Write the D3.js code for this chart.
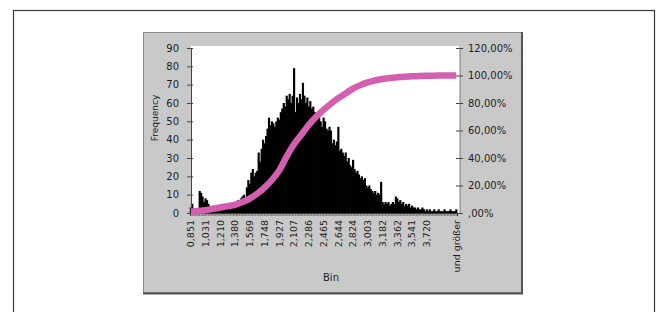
<!DOCTYPE html>
<html><head><meta charset="utf-8">
<script src="https://cdn.jsdelivr.net/npm/d3@7"></script>
<style>
html,body{margin:0;padding:0;background:#fff;}
svg{display:block;}
text{font-family:"DejaVu Sans",sans-serif;fill:#1e1e1e;}
</style></head>
<body>
<svg id="c" width="657" height="312"></svg>
<script>
// Frequency per bin (181 bins, last = "und größer")
const frequency = [
 3,5,2,0,1,1,12,11,9,6,
 8,7,5,3,2,4,3,2,1,2,
 3,2,3,2,4,3,3,2,4,5,
 3,5,7,6,8,9,10,8,14,18,
 16,22,24,20,22,23,33,28,35,40,
 38,42,46,52,48,50,49,47,50,52,
 51,55,57,60,58,64,62,65,60,64,
 79,55,63,60,65,62,71,64,60,63,
 58,61,57,58,55,52,54,55,50,47,
 52,50,46,45,47,45,38,40,37,39,
 47,34,35,33,31,33,28,30,26,25,
 29,24,22,23,21,19,20,18,19,15,
 14,15,13,12,11,12,10,11,10,17,
 6,5,6,5,6,4,5,6,5,9,
 8,6,7,5,6,4,5,4,5,3,
 4,3,3,2,3,2,2,3,2,1,
 2,1,2,1,1,2,1,1,2,1,
 1,1,2,1,1,1,2,1,1,1,2
];
// Cumulative % read at every 5th bin
const cumulativePct = [
 1,1.5,2,3,4,5,6,8,10.5,14,
 18.5,24,31,41,50,57,64,70,75,79.5,
 83.5,87,90.5,93,95,96.5,97.5,98.2,98.7,99.1,
 99.4,99.6,99.8,99.9,100,100,100
];
const cumStep = 5;
// X tick labels, shown on every 10th bin; last one on the final bin
const xTickLabels = ["0,851","1,031","1,210","1,380","1,569","1,748","1,927","2,107","2,286","2,465","2,644","2,824","3,003","3,182","3,362","3,541","3,720","und größer"];
const xTickEvery = 10;
const leftTicks = [0,10,20,30,40,50,60,70,80,90];
const rightTicks = [0,20,40,60,80,100,120];
const rightTickLabels = [",00%","20,00%","40,00%","60,00%","80,00%","100,00%","120,00%"];

const svg = d3.select("#c");
// outer frame
svg.append("rect").attr("x",13.5).attr("y",10.5).attr("width",641).attr("height",330)
  .attr("fill","#fff").attr("stroke","#3a3a3a").attr("stroke-width",1.2);
// gray chart panel
svg.append("rect").attr("x",143.5).attr("y",32.5).attr("width",378).attr("height",260)
  .attr("fill","#c9c9c9").attr("stroke","#8a8a8a").attr("stroke-width",1);
svg.append("line").attr("x1",522).attr("x2",522).attr("y1",32).attr("y2",294).attr("stroke","#555").attr("stroke-width",2);
svg.append("line").attr("x1",143).attr("x2",523).attr("y1",293.5).attr("y2",293.5).attr("stroke","#555").attr("stroke-width",2);

const L=191, R=459, T=46, B=213;
svg.append("rect").attr("x",L).attr("y",T).attr("width",R-L).attr("height",B-T).attr("fill","#fff");

const idx = frequency.map((d,i)=>i);
const x = d3.scaleBand().domain(idx).range([190,457]).padding(0);
const y = d3.scaleLinear().domain([0,90]).range([B,48]);
const y2 = d3.scaleLinear().domain([0,120]).range([B,48]);
const bw = x.bandwidth();

// bars (slightly overlapping so the mass renders solid)
svg.append("g").selectAll("rect").data(frequency).join("rect")
  .attr("x",(d,i)=>x(i)-0.25).attr("width",bw+0.7)
  .attr("y",d=>y(d)).attr("height",d=>B-y(d))
  .attr("fill","#000");

// x axis line and category ticks
const xa = svg.append("g").attr("transform",`translate(0,${B})`)
  .call(d3.axisBottom(x).tickSize(3).tickFormat(""));
xa.select(".domain").attr("stroke","#333");
xa.selectAll(".tick line").attr("stroke","#444").attr("stroke-width",0.6);

// x tick labels
const labelled = xTickLabels.map((t,k)=>({t, i: k<xTickLabels.length-1 ? k*xTickEvery : frequency.length-1}));
svg.append("g").selectAll("text").data(labelled).join("text")
  .attr("transform",d=>`translate(${x(d.i)+bw/2},220) rotate(-90)`)
  .attr("text-anchor","end").attr("dy","0.35em")
  .style("font-size","9.5px").text(d=>d.t);

// left axis
const ya = svg.append("g").attr("transform",`translate(${L},0)`)
  .call(d3.axisLeft(y).tickValues(leftTicks).tickSize(4).tickPadding(8).tickSizeOuter(0));
ya.select(".domain").attr("stroke","#444");
ya.selectAll(".tick line").attr("x1",2).attr("stroke","#444");
ya.selectAll(".tick text").style("font-size","10px").style("font-family","DejaVu Sans");

// right axis
const yb = svg.append("g").attr("transform",`translate(460,0)`)
  .call(d3.axisRight(y2).tickValues(rightTicks).tickSize(3).tickPadding(5).tickSizeOuter(0)
    .tickFormat((d,i)=>rightTickLabels[i]));
yb.select(".domain").attr("stroke","#9a9a9a");
yb.selectAll(".tick line").attr("x1",-4).attr("stroke","#444");
yb.selectAll(".tick text").style("font-size","10px").style("font-family","DejaVu Sans");

// cumulative line
const line = d3.line()
  .x((d,k)=>x(k*cumStep)+bw/2)
  .y(d=>y2(d))
  .curve(d3.curveMonotoneX);
svg.append("path").datum(cumulativePct).attr("d",line)
  .attr("fill","none").attr("stroke","#d45fb0").attr("stroke-width",6.5);

// axis titles
svg.append("text").attr("transform","translate(158,118) rotate(-90)")
  .attr("text-anchor","middle").style("font-size","9px").text("Frequency");
svg.append("text").attr("x",331).attr("y",281).attr("text-anchor","middle")
  .style("font-size","10px").text("Bin");
</script>
</body></html>
